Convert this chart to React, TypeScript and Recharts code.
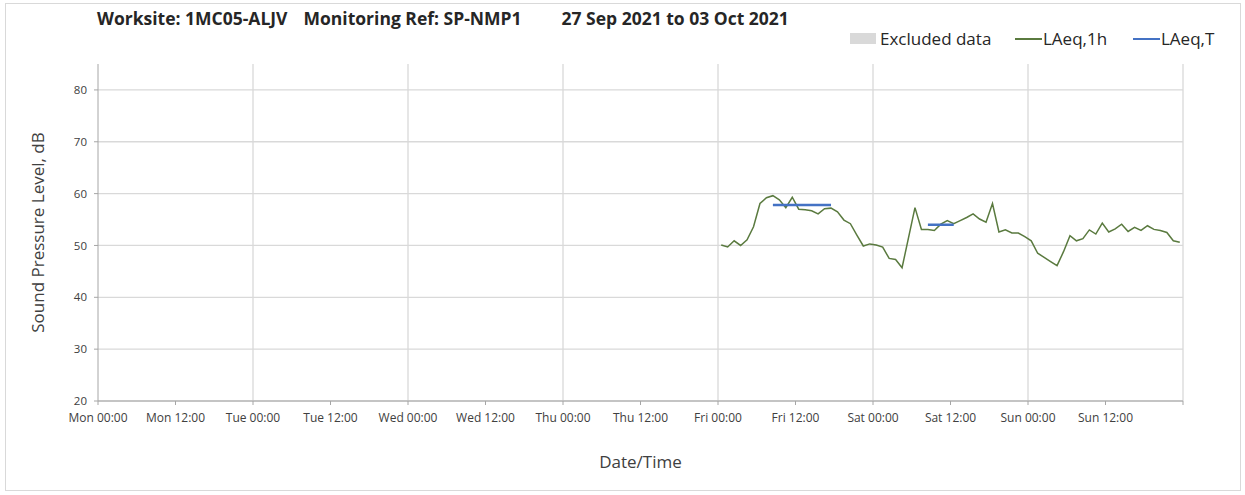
import React from 'react';
import { LineChart, Line, XAxis, YAxis, CartesianGrid } from 'recharts';

const FONT = '"Open Sans", sans-serif';

// hours since Mon 27 Sep 2021 00:00 (Fri 00:00 = 96)
const hours1h = [
  96.5, 97.5, 98.5, 99.5, 100.5, 101.5, 102.5, 103.5, 104.5, 105.5,
  106.5, 107.5, 108.5, 109.5, 110.5, 111.5, 112.5, 113.5, 114.5, 115.5,
  116.5, 117.5, 118.5, 119.5, 120.5, 121.5, 122.5, 123.5, 124.5,
  126.5, 127.5, 128.5, 129.5, 130.5, 131.5, 132.5, 133.5, 134.5, 135.5,
  136.5, 137.5, 138.5, 139.5, 140.5, 141.5, 142.5, 143.5, 144.5, 145.5,
  146.5, 147.5, 148.5, 149.5, 150.5, 151.5, 152.5, 153.5, 154.5, 155.5,
  156.5, 157.5, 158.5, 159.5, 160.5, 161.5, 162.5, 163.5, 164.5, 165.5,
  166.5, 167.5,
];
const laeq1h = [
  50.1, 49.7, 50.9, 50.0, 51.1, 53.6, 58.1, 59.2, 59.6, 58.8,
  57.3, 59.3, 57.0, 56.9, 56.7, 56.1, 57.1, 57.2, 56.5, 54.9,
  54.2, 52.0, 49.9, 50.3, 50.1, 49.7, 47.5, 47.3, 45.7,
  57.3, 53.1, 53.1, 52.9, 54.1, 54.8, 54.2, 54.8, 55.4, 56.1,
  55.1, 54.5, 58.1, 52.6, 53.0, 52.4, 52.4, 51.7, 50.9, 48.5,
  47.7, 46.9, 46.1, 48.8, 51.9, 50.9, 51.3, 53.0, 52.2, 54.3,
  52.6, 53.2, 54.1, 52.7, 53.5, 52.9, 53.8, 53.1, 52.9, 52.5,
  50.9, 50.6,
];

// LAeq,T periods
const periodStart = [104.5, 128.5];
const periodEnd = [113.5, 132.5];
const laeqT = [57.8, 54.0];

const xTicks = [0, 12, 24, 36, 48, 60, 72, 84, 96, 108, 120, 132, 144, 156, 168];
const xTickLabels = [
  'Mon 00:00', 'Mon 12:00', 'Tue 00:00', 'Tue 12:00', 'Wed 00:00', 'Wed 12:00',
  'Thu 00:00', 'Thu 12:00', 'Fri 00:00', 'Fri 12:00', 'Sat 00:00', 'Sat 12:00',
  'Sun 00:00', 'Sun 12:00', '',
];
const dayLines = [24, 48, 72, 96, 120, 144, 168];
const yTicks = [20, 30, 40, 50, 60, 70, 80];

const hourlyData = hours1h.map((h, i) => ({ hour: h, laeq1h: laeq1h[i] }));

const periodData: { hour: number; laeqT: number | null }[] = [];
laeqT.forEach((v, i) => {
  if (i > 0) periodData.push({ hour: (periodEnd[i - 1] + periodStart[i]) / 2, laeqT: null });
  periodData.push({ hour: periodStart[i], laeqT: v });
  periodData.push({ hour: periodEnd[i], laeqT: v });
});

const abs = (left: number, top: number): React.CSSProperties => ({
  position: 'absolute',
  left,
  top,
  whiteSpace: 'pre',
  lineHeight: 1,
});

export default function App() {
  return (
    <div
      style={{
        position: 'absolute',
        left: 0,
        top: 0,
        width: 1245,
        height: 495,
        background: '#fff',
        fontFamily: FONT,
        color: '#262626',
      }}
    >
      <div
        style={{
          position: 'absolute',
          left: 5,
          top: 3,
          width: 1234,
          height: 486,
          border: '1px solid #d9d9d9',
        }}
      />

      {/* title */}
      <div style={{ ...abs(97, 10), fontSize: 17.5, fontWeight: 700 }}>
        <span>Worksite: 1MC05-ALJV</span>
        <span style={{ marginLeft: 16 }}>Monitoring Ref: SP-NMP1</span>
        <span style={{ marginLeft: 40 }}>27 Sep 2021 to 03 Oct 2021</span>
      </div>

      {/* legend */}
      <div style={{ position: 'absolute', left: 850, top: 33, width: 26, height: 11, background: '#d9d9d9' }} />
      <div style={{ ...abs(880, 30), fontSize: 17 }}>Excluded data</div>
      <div style={{ position: 'absolute', left: 1015, top: 38, width: 27, height: 2, background: '#5a7a3f' }} />
      <div style={{ ...abs(1043, 30), fontSize: 17 }}>LAeq,1h</div>
      <div style={{ position: 'absolute', left: 1133, top: 38, width: 27, height: 2, background: '#4472c4' }} />
      <div style={{ ...abs(1161, 30), fontSize: 17 }}>LAeq,T</div>

      <div style={{ position: 'absolute', left: 0, top: 0 }}>
        <LineChart width={1245} height={495} margin={{ top: 64, right: 62, left: 0, bottom: 0 }}>
          <CartesianGrid
            stroke="#d9d9d9"
            strokeWidth={1.3}
            horizontalValues={yTicks}
            verticalValues={dayLines}
          />
          <XAxis
            type="number"
            dataKey="hour"
            domain={[0, 168]}
            ticks={xTicks}
            interval={0}
            height={94}
            tickSize={4}
            tickMargin={8}
            stroke="#a6a6a6"
            tick={{ fill: '#404040', fontSize: 12, fontFamily: FONT }}
            tickFormatter={(v: number) => xTickLabels[xTicks.indexOf(v)] ?? ''}
            label={{
              value: 'Date/Time',
              position: 'insideBottom',
              offset: 27,
              style: { fill: '#404040', fontSize: 17, fontFamily: FONT },
            }}
          />
          <YAxis
            type="number"
            domain={[20, 85]}
            ticks={yTicks}
            interval={0}
            width={98}
            tickSize={4}
            tickMargin={7}
            stroke="#a6a6a6"
            tick={{ fill: '#404040', fontSize: 11.5, fontFamily: FONT }}
            label={{
              value: 'Sound Pressure Level, dB',
              angle: -90,
              position: 'insideLeft',
              offset: 38,
              style: { textAnchor: 'middle', fill: '#404040', fontSize: 17, fontFamily: FONT },
            }}
          />
          <Line
            data={hourlyData}
            dataKey="laeq1h"
            type="linear"
            stroke="#5a7a3f"
            strokeWidth={1.5}
            dot={false}
            isAnimationActive={false}
          />
          <Line
            data={periodData}
            dataKey="laeqT"
            type="linear"
            stroke="#4472c4"
            strokeWidth={2.5}
            dot={false}
            connectNulls={false}
            isAnimationActive={false}
          />
        </LineChart>
      </div>
    </div>
  );
}
